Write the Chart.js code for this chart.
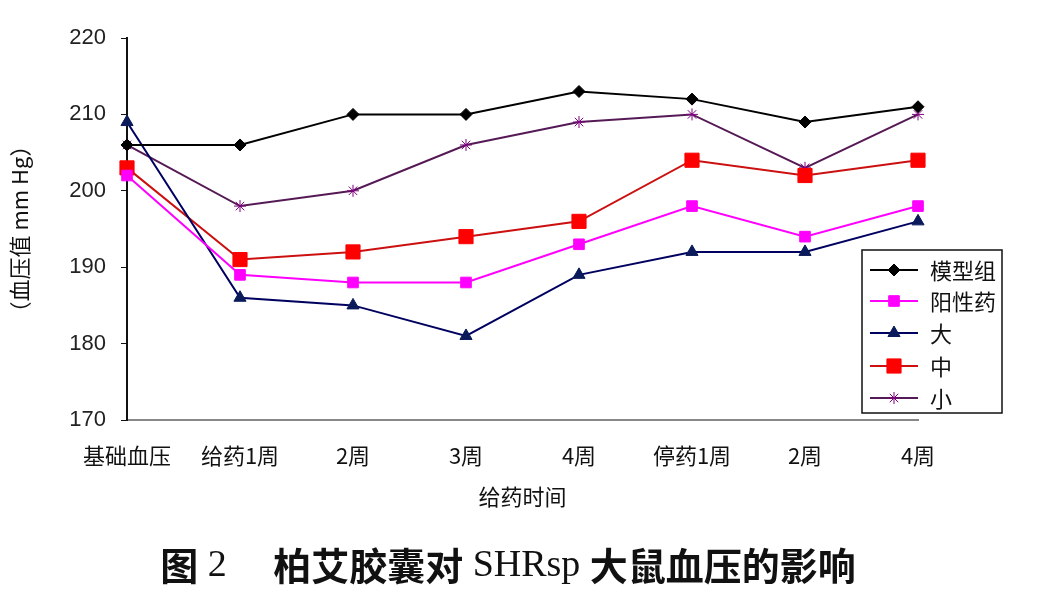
<!DOCTYPE html>
<html>
<head>
<meta charset="utf-8">
<script src="https://cdn.jsdelivr.net/npm/chart.js@4/dist/chart.umd.min.js"></script>
<style>
  body { margin: 0; background: #fff; }
  canvas { display: block; }
</style>
</head>
<body>
<canvas id="myChart" width="1064" height="610"></canvas>
<script>
// data
var categories = ['基础血压', '给药1周', '2周', '3周', '4周', '停药1周', '2周', '4周'];
var yTicks = [170, 180, 190, 200, 210, 220];
var seriesNames = ['模型组', '阳性药', '大', '中', '小'];
var moxingzu = [206, 206, 210, 210, 213, 212, 209, 211];
var yangxingyao = [202, 189, 188, 188, 193, 198, 194, 198];
var da = [209, 186, 185, 181, 189, 192, 192, 196];
var zhong = [203, 191, 192, 194, 196, 204, 202, 204];
var xiao = [206, 198, 200, 206, 209, 210, 203, 210];

var cjk = "'Noto Sans CJK SC', 'Noto Sans', sans-serif";
var serif = "'Liberation Serif', 'DejaVu Serif', serif";

function makeSet(label, data, line, fill, style, r, rot) {
    return {
        label: label,
        data: data,
        borderColor: line,
        backgroundColor: fill,
        pointBackgroundColor: fill,
        pointBorderColor: fill,
        pointStyle: style,
        pointRadius: r,
        pointHoverRadius: r,
        pointRotation: rot || 0,
        pointBorderWidth: 1,
        borderWidth: 2,
        tension: 0
    };
}

// legend box drawn by hand at the right side, over the plot
var boxLegend = {
    id: 'boxLegend',
    afterDraw: function (chart) {
        var ctx = chart.ctx;
        var x0 = 862, y0 = 250, w = 140, h = 163;
        ctx.save();
        ctx.fillStyle = '#fff';
        ctx.fillRect(x0, y0, w, h);
        ctx.strokeStyle = '#111';
        ctx.lineWidth = 1.5;
        ctx.strokeRect(x0, y0, w, h);
        var rows = [270, 301, 333, 366, 398];
        chart.data.datasets.forEach(function (ds, i) {
            var y = rows[i];
            ctx.strokeStyle = ds.borderColor;
            ctx.lineWidth = 2;
            ctx.beginPath();
            ctx.moveTo(870, y);
            ctx.lineTo(918, y);
            ctx.stroke();
            ctx.fillStyle = ds.pointBackgroundColor;
            ctx.strokeStyle = ds.pointBorderColor;
            ctx.lineWidth = 1;
            Chart.helpers.drawPoint(ctx, {
                pointStyle: ds.pointStyle,
                radius: ds.pointRadius,
                rotation: ds.pointRotation,
                borderWidth: 1
            }, 894, y);
            ctx.fillStyle = '#111';
            ctx.font = '22px ' + cjk;
            ctx.textBaseline = 'middle';
            ctx.textAlign = 'left';
            ctx.fillText(ds.label, 930, y + 1);
        });
        ctx.restore();
    }
};

// figure caption under the chart: bold CJK, plain serif latin
var caption = {
    id: 'caption',
    afterDraw: function (chart) {
        var ctx = chart.ctx;
        var parts = [
            ['图', 'bold 38px ' + cjk],
            [' 2', '38px ' + serif],
            ['\u3000\u00a0', '38px ' + cjk],
            ['柏艾胶囊对', 'bold 38px ' + cjk],
            [' SHRsp ', '38px ' + serif],
            ['大鼠血压的影响', 'bold 38px ' + cjk]
        ];
        ctx.save();
        ctx.fillStyle = '#111';
        ctx.textBaseline = 'middle';
        ctx.textAlign = 'left';
        var total = 0;
        parts.forEach(function (p) { ctx.font = p[1]; total += ctx.measureText(p[0]).width; });
        var x = 508 - total / 2;
        parts.forEach(function (p) {
            ctx.font = p[1];
            ctx.fillText(p[0], x, 566);
            x += ctx.measureText(p[0]).width;
        });
        ctx.restore();
    }
};

var ctx = document.getElementById('myChart').getContext('2d');
var myChart = new Chart(ctx, {
    type: 'line',
    data: {
        labels: categories,
        datasets: [
            makeSet(seriesNames[0], moxingzu, '#000000', '#000000', 'rectRot', 6),
            makeSet(seriesNames[1], yangxingyao, '#ff00ff', '#ff00ff', 'rect', 7.5),
            makeSet(seriesNames[2], da, '#000060', '#0a1a5a', 'triangle', 7),
            makeSet(seriesNames[3], zhong, '#cc1010', '#ff0000', 'rect', 10),
            makeSet(seriesNames[4], xiao, '#551a55', '#800080', 'star', 6)
        ]
    },
    options: {
        responsive: false,
        animation: false,
        layout: {
            padding: { left: 0, right: 146, top: 38, bottom: 0 }
        },
        plugins: {
            legend: { display: false },
            tooltip: { enabled: false },
            title: { display: false }
        },
        scales: {
            x: {
                offset: false,
                grid: { display: true, drawOnChartArea: false, drawTicks: false },
                border: { display: true, color: '#888', width: 2 },
                ticks: {
                    color: '#111',
                    padding: 22,
                    maxRotation: 0,
                    autoSkip: false,
                    font: { family: cjk, size: 22 }
                },
                title: {
                    display: true,
                    text: '给药时间',
                    color: '#111',
                    font: { family: cjk, size: 22 },
                    padding: { top: 0, bottom: 100 }
                },
                afterFit: function (scale) { scale.height = 190; }
            },
            y: {
                min: 170,
                max: 220,
                afterBuildTicks: function (scale) {
                    scale.ticks = yTicks.map(function (v) { return { value: v }; });
                },
                grid: { display: true, drawOnChartArea: false, drawTicks: true, tickLength: 6, color: '#111' },
                border: { display: true, color: '#111', width: 2 },
                ticks: {
                    color: '#222',
                    padding: 15,
                    font: { family: "'Liberation Sans', Arial, sans-serif", size: 22 }
                },
                title: {
                    display: true,
                    text: '（血压值 mm Hg）',
                    color: '#111',
                    font: { family: cjk, size: 22 },
                    padding: { top: 6, bottom: 0 }
                },
                afterFit: function (scale) { scale.width = 127; }
            }
        }
    },
    plugins: [boxLegend, caption]
});
</script>
</body>
</html>
